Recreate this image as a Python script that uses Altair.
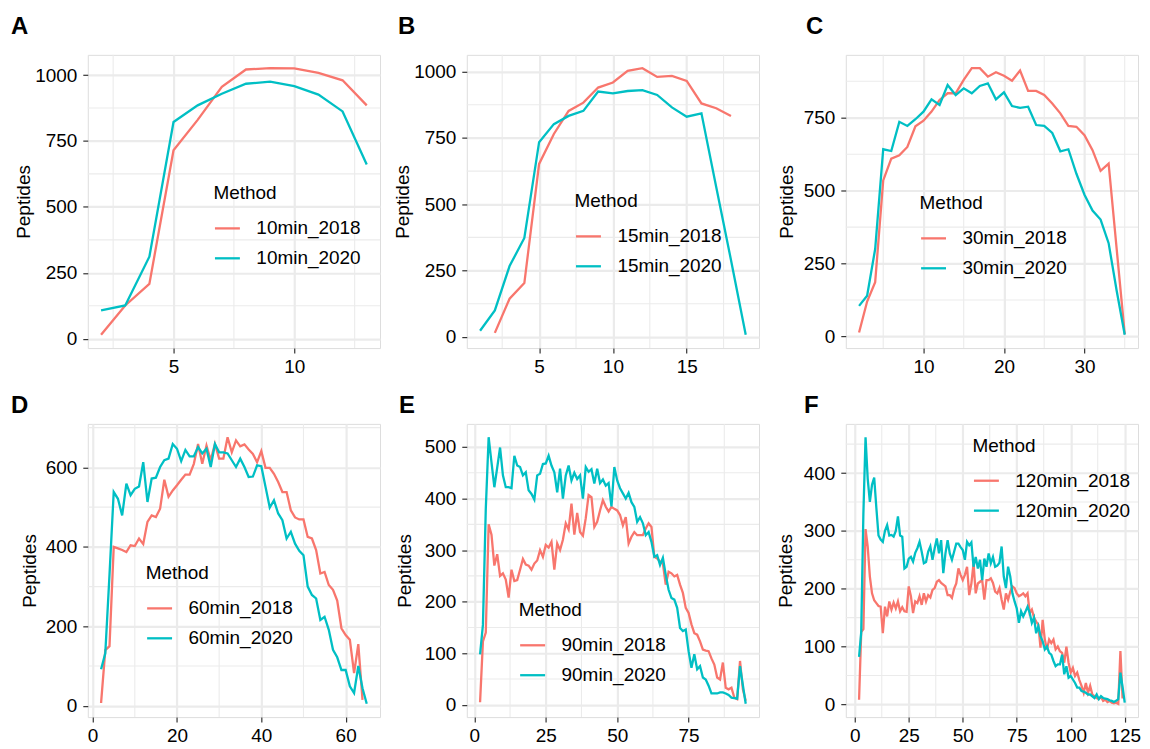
import altair as alt
import pandas as pd

FONT = "Liberation Sans"
RED, TEAL = "#F8766D", "#00BFC4"

# ---------------- data ----------------
# Panel A (10 min)
A_x18 = list(range(2, 14))
A_y18 = [15, 126, 208, 715, 830, 955, 1021, 1026, 1025, 1008, 980, 885]
A_x20 = list(range(2, 14))
A_y20 = [107, 126, 311, 822, 885, 929, 967, 975, 958, 926, 862, 661]

# Panel B (15 min)
B_x18 = list(range(2, 19))
B_y18 = [15, 144, 203, 652, 765, 852, 883, 940, 959, 1003, 1013, 980, 984, 965, 880, 862, 833]
B_x20 = list(range(1, 20))
B_y20 = [23, 100, 267, 373, 734, 802, 833, 852, 925, 918, 927, 930, 912, 865, 830, 843, 565, 290, 8]

# Panel C (30 min)
C_x18 = list(range(2, 36))
C_y18 = [14, 120, 186, 535, 610, 621, 650, 721, 740, 771,
         811, 834, 834, 880, 920, 920, 891, 906, 894, 877,
         912, 842, 842, 828, 799, 765, 722, 719, 690, 639,
         568, 593, 300, 8]
C_x20 = list(range(2, 36))
C_y20 = [105, 140, 300, 642, 636, 736, 722, 745, 771, 813,
         794, 862, 828, 851, 834, 859, 868, 813, 837, 790,
         784, 788, 725, 722, 698, 635, 642, 558, 486, 432,
         401, 320, 157, 6]

# Panel D (60 min)
D_x18 = list(range(2, 65))
D_y18 = [7, 140, 150, 400, 396, 392, 387, 404, 402, 421,
         407, 463, 479, 475, 496, 569, 526, 542, 555, 569,
         582, 582, 609, 659, 609, 655, 618, 659, 622, 622,
         676, 638, 668, 653, 658, 645, 634, 613, 641, 599,
         599, 584, 563, 538, 538, 492, 474, 469, 469, 425,
         421, 392, 333, 337, 304, 292, 265, 195, 178, 166,
         82, 155, 15]
D_x20 = list(range(2, 66))
D_y20 = [92, 132, 330, 538, 521, 479, 559, 530, 546, 552,
         613, 513, 572, 574, 601, 618, 622, 659, 647, 616,
         644, 628, 628, 651, 635, 647, 601, 659, 638, 638,
         635, 618, 601, 622, 601, 576, 577, 605, 603, 551,
         499, 517, 484, 467, 421, 438, 408, 390, 379, 300,
         279, 270, 216, 224, 191, 141, 122, 90, 90, 49,
         32, 100, 44, 5]

# Panel E (90 min)
E_x18 = list(range(2, 96))
E_y18 = [5, 123, 140, 350, 330, 270, 292, 250, 255, 243,
         208, 262, 240, 242, 262, 283, 272, 270, 262, 274,
         280, 300, 287, 310, 305, 316, 262, 313, 300, 320,
         352, 340, 390, 330, 372, 335, 328, 362, 407, 403,
         345, 355, 377, 397, 384, 375, 384,
         380, 377, 368, 348, 364, 313, 326, 335, 329, 329,
         329, 342, 352, 345, 287, 284, 278, 274, 233, 258,
         255, 249, 252, 233, 217, 188, 178, 156, 139, 136,
         123, 107, 105, 104, 90, 78, 53, 49, 82, 33,
         30, 33, 14, 11, 85, 30, 8]
E_x20 = list(range(2, 96))
E_y20 = [98, 155, 380, 519, 470, 422, 460, 499, 445, 422,
         422, 420, 483, 464, 461, 445, 451, 416, 409, 398,
         445, 448, 467, 468, 483, 464, 451, 412, 458, 400,
         445, 464, 435, 450, 438, 445, 400, 461, 452, 457,
         429, 458, 430, 437, 425, 430, 385,
         461, 435, 420, 410, 400, 411, 393, 384, 355, 364,
         352, 329, 335, 316, 287, 290, 271, 285, 252, 223,
         207, 204, 188, 149, 143, 146, 104, 72, 98, 69,
         75, 53, 49, 37, 22, 22, 22, 24, 24, 22,
         19, 14, 13, 12, 75, 38, 2]

# Panel F (120 min)
F_x18 = list(range(2, 125))
F_y18 = [8, 125, 130, 303, 273, 221, 192, 180, 175, 170,
         169, 123, 169, 152, 178, 164, 176, 166, 178, 161,
         168, 161, 160, 204, 187, 158, 178, 175, 187, 172,
         192, 178, 189, 185, 198, 201, 212, 215, 210, 207,
         204, 189, 189, 184, 200, 209, 235, 224, 215, 224,
         238, 189, 209, 244, 192, 209, 212, 215, 181, 215,
         215, 218, 210,
         195, 192, 201, 181, 164, 192, 181, 195, 204, 201,
         192, 187, 189, 192, 187, 192, 158, 164, 150, 143,
         138, 98, 146, 112, 95, 112, 106, 112, 95, 100,
         92, 89, 72, 100, 72, 55, 63, 49, 55, 42,
         32, 20, 37, 20, 32, 17, 14, 11, 9, 13,
         6, 8, 4, 6, 3, 2, 3, 1, 92, 10]
F_x20 = list(range(2, 126))
F_y20 = [82, 125, 330, 462, 390, 350, 380, 392, 340, 292,
         285, 281, 300, 310, 292, 293, 290, 300, 325, 292,
         290, 235, 238, 252, 255, 247, 262, 270, 281, 264,
         244, 246, 264, 273, 250, 270, 287, 261, 284, 227,
         261, 284, 261, 250, 264, 278, 278, 272, 267, 250,
         281, 275, 280, 238, 255, 235, 250, 215, 252, 238,
         261, 244, 255, 238, 240, 245,
         273, 221, 201, 238, 221, 192, 178, 166, 141, 161,
         152, 160, 169, 158, 141, 150, 123, 135, 118, 109,
         95, 100, 89, 86, 75, 66, 69, 69, 86, 52,
         66, 46, 49, 43, 37, 29, 29, 23, 22, 20,
         17, 17, 14, 11, 17, 9, 14, 11, 10, 9,
         7, 6, 4, 6, 9, 55, 30, 3]

# tick values (major labelled ticks / minor grid lines)
A_xt, A_xm = [5, 10], [2.5, 7.5, 12.5]
B_xt, B_xm = [5, 10, 15], [2.5, 7.5, 12.5, 17.5]
C_xt, C_xm = [10, 20, 30], [5, 15, 25, 35]
D_xt, D_xm = [0, 20, 40, 60], [10, 30, 50]
E_xt, E_xm = [0, 25, 50, 75], [12.5, 37.5, 62.5, 87.5]
F_xt, F_xm = [0, 25, 50, 75, 100, 125], [12.5, 37.5, 62.5, 87.5, 112.5]
Y1000_t, Y1000_m = [0, 250, 500, 750, 1000], [125, 375, 625, 875]
YC_t, YC_m = [0, 250, 500, 750], [125, 375, 625, 875]
YD_t, YD_m = [0, 200, 400, 600], [100, 300, 500, 700]
YE_t, YE_m = [0, 100, 200, 300, 400, 500], [50, 150, 250, 350, 450]
YF_t, YF_m = [0, 100, 200, 300, 400], [50, 150, 250, 350, 450]

W, H = 293, 294
GRID = "#EBEBEB"


def expand(lo, hi, f=0.05):
    d = hi - lo
    return [lo - f * d, hi + f * d]


def panel(letter, x18, y18, x20, y20, m18, m20, xt, xm, yt, ym,
          label_dx, label_dy, ytitle_x, leg_x, leg_y):
    df = pd.DataFrame({
        "Fraction": list(x18) + list(x20),
        "Peptides": list(y18) + list(y20),
        "Method": [m18] * len(x18) + [m20] * len(x20),
    })
    xs = alt.Scale(domain=expand(df.Fraction.min(), df.Fraction.max()), nice=False, zero=False)
    ys = alt.Scale(domain=expand(df.Peptides.min(), df.Peptides.max()), nice=False, zero=False)

    major_ax = dict(grid=True, gridColor=GRID, gridWidth=2.2, domain=False,
                    ticks=True, tickColor="#333333", tickWidth=1.2, tickSize=5,
                    labelFont=FONT, labelFontSize=19, labelColor="black", format="d")
    x_axis = alt.Axis(values=xt, orient="bottom", title=None, labelPadding=4, **major_ax)
    y_axis = alt.Axis(values=yt, orient="left", title="Peptides", labelPadding=6,
                      titleFont=FONT, titleFontSize=19, titleFontWeight="normal",
                      titleColor="black", titleX=ytitle_x, titleY=H / 2,
                      titleAngle=270, titleAlign="center", titleBaseline="middle",
                      **major_ax)

    lines = alt.Chart(df).mark_line(strokeWidth=2.3).encode(
        x=alt.X("Fraction:Q", scale=xs, axis=x_axis),
        y=alt.Y("Peptides:Q", scale=ys, axis=y_axis),
        color=alt.Color("Method:N", scale=alt.Scale(domain=[m18, m20], range=[RED, TEAL]),
                        legend=alt.Legend(orient="none", legendX=leg_x, legendY=leg_y,
                                          title="Method", titleFont=FONT, titleFontSize=19,
                                          titleFontWeight="normal", titleColor="black",
                                          titlePadding=11, labelFont=FONT, labelFontSize=19,
                                          labelColor="black", symbolType="stroke",
                                          symbolStrokeWidth=2.3, symbolSize=625,
                                          labelOffset=15, rowPadding=6, padding=0)),
    )
    minor_x = alt.Chart(pd.DataFrame({"Fraction": xm})).mark_rule(
        color=GRID, strokeWidth=1.1).encode(x=alt.X("Fraction:Q", scale=xs, axis=x_axis))
    minor_y = alt.Chart(pd.DataFrame({"Peptides": ym})).mark_rule(
        color=GRID, strokeWidth=1.1).encode(y=alt.Y("Peptides:Q", scale=ys, axis=y_axis))
    tag = alt.Chart(pd.DataFrame({"label": [letter]})).mark_text(
        font=FONT, fontSize=24, fontWeight="bold", color="black",
        align="left", baseline="alphabetic").encode(
        text="label:N", x=alt.value(label_dx), y=alt.value(label_dy))

    return alt.layer(minor_x, minor_y, lines, tag).properties(width=W, height=H)


pA = panel("A", A_x18, A_y18, A_x20, A_y20, "10min_2018", "10min_2020",
           A_xt, A_xm, Y1000_t, Y1000_m, -77, -21, -64.5, 126, 130)
pB = panel("B", B_x18, B_y18, B_x20, B_y20, "15min_2018", "15min_2020",
           B_xt, B_xm, Y1000_t, Y1000_m, -69, -21, -64.5, 108, 138)
pC = panel("C", C_x18, C_y18, C_x20, C_y20, "30min_2018", "30min_2020",
           C_xt, C_xm, YC_t, YC_m, -40, -21, -59.5, 74, 140)
pD = panel("D", D_x18, D_y18, D_x20, D_y20, "60min_2018", "60min_2020",
           D_xt, D_xm, YD_t, YD_m, -77, -11, -58, 58, 141)
pE = panel("E", E_x18, E_y18, E_x20, E_y20, "90min_2018", "90min_2020",
           E_xt, E_xm, YE_t, YE_m, -68, -11, -62, 52, 178)
pF = panel("F", F_x18, F_y18, F_x20, F_y20, "120min_2018", "120min_2020",
           F_xt, F_xm, YF_t, YF_m, -42, -11, -60.5, 127, 13)

chart = alt.concat(
    pA, pB, pC, pD, pE, pF, columns=3,
    spacing=alt.RowColnumber(row=76, column=87), bounds="flush",
).resolve_scale(
    color="independent", x="independent", y="independent"
).properties(
    padding={"left": 2, "top": 5, "right": 0, "bottom": 0}
).configure_view(
    stroke="#333333", strokeWidth=1.3
).configure(font=FONT, background="white")

chart.save("out.html", embed_options={"renderer": "svg", "actions": False})
